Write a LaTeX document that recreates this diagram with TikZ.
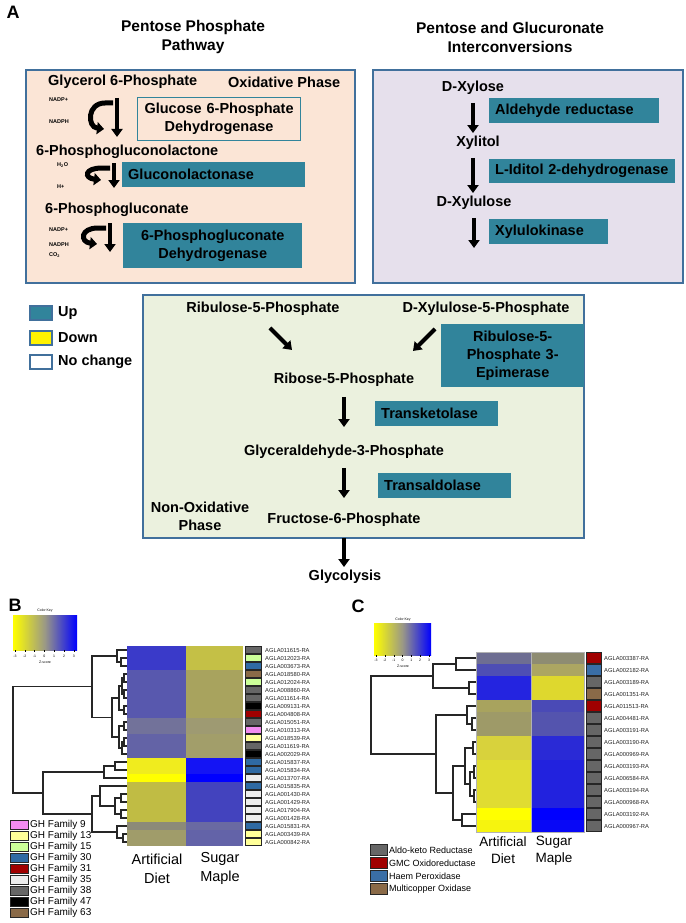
\documentclass[tikz,border=0pt]{standalone}
\usepackage{fontspec}
\setmainfont{Liberation Sans}
\usetikzlibrary{positioning,arrows.meta,calc}
\definecolor{peach}{HTML}{FBE5D6}
\definecolor{lav}{HTML}{E6E0EC}
\definecolor{olv}{HTML}{EBF1DE}
\definecolor{frm}{HTML}{41709C}
\definecolor{tealup}{HTML}{31849B}
\definecolor{keygray}{HTML}{9A9886}
% heat map cells
\definecolor{bgA}{HTML}{3A3AC9}\definecolor{bgAs}{HTML}{C4C046}
\definecolor{bgB}{HTML}{5858AE}\definecolor{bgBs}{HTML}{A8A35E}
\definecolor{bgC}{HTML}{72729A}\definecolor{bgCs}{HTML}{9E9A72}
\definecolor{bgD}{HTML}{6363A6}\definecolor{bgDs}{HTML}{A29E6A}
\definecolor{bgE}{HTML}{F0EC1E}\definecolor{bgEs}{HTML}{1414F4}
\definecolor{bgF}{HTML}{C0BC44}\definecolor{bgFs}{HTML}{4343BE}
\definecolor{bgG}{HTML}{8C8A78}\definecolor{bgGs}{HTML}{6A6AA2}
\definecolor{bgH}{HTML}{A09C6A}\definecolor{bgHs}{HTML}{6363A8}
\definecolor{hiY}{HTML}{FFFF00}\definecolor{hiB}{HTML}{0000FF}
\definecolor{cgA}{HTML}{6E6E92}\definecolor{cgAs}{HTML}{8E8C72}
\definecolor{cgB}{HTML}{4E4EB4}\definecolor{cgBs}{HTML}{ACA662}
\definecolor{cgC}{HTML}{2424E0}\definecolor{cgCs}{HTML}{DED82E}
\definecolor{cgD}{HTML}{A8A35E}\definecolor{cgDs}{HTML}{4A4AB6}
\definecolor{cgE}{HTML}{9E9A68}\definecolor{cgEs}{HTML}{5454AE}
\definecolor{cgF}{HTML}{D8D23C}\definecolor{cgFs}{HTML}{2A2AD6}
\definecolor{cgG}{HTML}{E0DC32}\definecolor{cgGs}{HTML}{2222DE}
\definecolor{cgH}{HTML}{F6F40E}\definecolor{cgHs}{HTML}{0808F6}
% families
\definecolor{gh9}{HTML}{F28CF0}
\definecolor{gh13}{HTML}{FFFF99}
\definecolor{gh15}{HTML}{CCFF99}
\definecolor{gh30}{HTML}{2F6AA3}
\definecolor{gh31}{HTML}{A00000}
\definecolor{gh35}{HTML}{EDEDED}
\definecolor{gh38}{HTML}{666666}
\definecolor{gh47}{HTML}{000000}
\definecolor{gh63}{HTML}{8A6A48}
\definecolor{akr}{HTML}{666666}
\definecolor{gmc}{HTML}{A00000}
\definecolor{haem}{HTML}{3A6EA6}
\definecolor{mco}{HTML}{8A6A48}
\tikzset{
  >={Triangle[length=8pt,width=11pt]},
  frame/.style={draw=frm, line width=1.8pt},
  lbl/.style={font=\fontsize{14.5}{18}\selectfont\bfseries, inner sep=0pt, align=center},
  ttl/.style={lbl, font=\fontsize{15.5}{19}\selectfont\bfseries},
  panel/.style={font=\fontsize{18}{18}\selectfont\bfseries, inner sep=0pt},
  tiny/.style={font=\fontsize{5.5}{6}\selectfont\bfseries, inner sep=0pt, anchor=west},
  enz/.style={lbl, fill=tealup, anchor=north west, inner xsep=6pt, inner ysep=0pt, align=left},
  nochg/.style={enz, fill=none, draw=tealup, line width=1.2pt, align=center},
  legsq/.style={draw=frm, line width=1.5pt, minimum width=22pt, minimum height=14pt, inner sep=0pt},
  flux/.style={->, line width=4pt},
  keyt/.style={font=\fontsize{3.5}{4}\selectfont, inner sep=0pt},
  rowid/.style={font=\fontsize{5.8}{6}\selectfont, text=black!85, inner sep=0pt, anchor=west},
  coltxt/.style={font=\fontsize{14.5}{19}\selectfont, inner sep=0pt, align=center},
  legtxt/.style={font=\fontsize{10}{10}\selectfont, inner sep=0pt, anchor=west},
  side/.style={draw=black!85, line width=0.8pt},
  dend/.style={draw=black!85, line width=1.1pt},
  redox/.pic={
    \draw[line width=4pt, ->] (0,0) -- (0,#1);
    \draw[line width=5pt, -{Triangle[length=7pt,width=12pt]}] (-4,5) -- (-12,5)
      .. controls (-30,5) and (-30,{#1-10}) .. (-13,{#1-8});
  },
}
\newcommand{\dlink}[5]{\draw[dend] (#2,#3) -| (#1,#5) -- (#4,#5);}

\begin{document}
\begin{tikzpicture}[x=1pt,y=-1pt]
  \fill[white] (0,0) rectangle (685,923);
  \useasboundingbox (0,0) rectangle (685,923);

  % ---------- panel A ----------
  \node[panel] (pA) at (13,12) {A};
  \node[ttl] (tppp) at (193,37) {Pentose Phosphate\\Pathway};
  \node[ttl] (tpgi) at (510,37) {Pentose and Glucuronate\\Interconversions};
  \draw[frame, fill=peach] (26,70) rectangle (355,283);
  \draw[frame, fill=lav] (373,70) rectangle (683,283);
  \draw[frame, fill=olv] (143,295) rectangle (584,538);

  % oxidative phase
  \node[lbl, anchor=west] (g6p) at (48,82) {Glycerol 6-Phosphate};
  \node[lbl, anchor=west] (oxph) at (228,82) {Oxidative Phase};
  \node[tiny] (nadp1) at (49,100) {NADP+};
  \node[tiny] (nadph1) at (49,122) {NADPH};
  \node[nochg, text width=151pt, minimum height=43pt] (g6pd) at (137,97) {Glucose 6-Phosphate\\Dehydrogenase};
  \pic at (117,98) {redox=39};
  \node[lbl, anchor=west] (pgl) at (36,152) {6-Phosphogluconolactone};
  \node[tiny] (h2o) at (57,165) {H\textsubscript{2}O};
  \node[tiny] (hplus) at (57,187) {H+};
  \node[enz, text width=171pt, minimum height=25pt] (glac) at (122,162) {Gluconolactonase};
  \pic at (114,163) {redox=25};
  \node[lbl, anchor=west] (pgn) at (45,210) {6-Phosphogluconate};
  \node[tiny] (nadp2) at (49,230) {NADP+};
  \node[tiny] (nadph2) at (49,245) {NADPH};
  \node[tiny] (co2) at (49,255) {CO\textsubscript{2}};
  \node[enz, align=center, text width=167pt, minimum height=45pt] (pgd) at (123,223) {6-Phosphogluconate\\Dehydrogenase};
  \pic at (110,223) {redox=29};

  % glucuronate interconversions
  \node[lbl] (dxyl) at (473,88) {D-Xylose};
  \node[enz, text width=158pt, minimum height=25pt] (ald) at (489,98) {Aldehyde reductase};
  \node[lbl] (xylt) at (478,143) {Xylitol};
  \node[enz, text width=174pt, minimum height=24pt] (lid) at (489,159) {L-Iditol 2-dehydrogenase};
  \node[lbl] (dxlu) at (474,203) {D-Xylulose};
  \node[enz, text width=107pt, minimum height=25pt] (xk) at (489,219) {Xylulokinase};
  \coordinate (xkend) at (474,248);
  \draw[flux, shorten <=8pt, shorten >=3pt] (dxyl.south) -- (dxyl.south |- xylt.north);
  \draw[flux, shorten <=8pt, shorten >=3pt] (dxyl.south |- xylt.south) -- (dxyl.south |- dxlu.north);
  \draw[flux, shorten <=8pt] (dxlu.south) -- (dxlu.south |- xkend);

  % legend
  \foreach \nm/\fc/\yy in {Up/tealup/313, Down/yellow/338, No change/white/362}{
    \node[legsq, fill=\fc] (sq\yy) at (41,\yy) {};
    \node[lbl, anchor=west] (lg\yy) at (58,\yy) {\nm};
  }

  % non-oxidative phase
  \node[lbl] (ru5p) at (263,309) {Ribulose-5-Phosphate};
  \node[lbl] (xu5p) at (486,309) {D-Xylulose-5-Phosphate};
  \node[enz, align=center, text width=131pt, minimum height=63pt] (rpe) at (441,324) {Ribulose-5-\\Phosphate 3-\\Epimerase};
  \node[lbl] (r5p) at (344,380) {Ribose-5-Phosphate};
  \node[enz, text width=111pt, minimum height=25pt] (tkt) at (375,401) {Transketolase};
  \node[lbl] (ga3p) at (344,452) {Glyceraldehyde-3-Phosphate};
  \node[enz, text width=121pt, minimum height=25pt] (tal) at (378,473) {Transaldolase};
  \node[lbl] (nonox) at (200,516) {Non-Oxidative\\Phase};
  \node[lbl] (f6p) at (344,520) {Fructose-6-Phosphate};
  \node[lbl] (glyc) at (345,577) {Glycolysis};
  \draw[flux] ([shift={(7,12)}]ru5p.south) -- ++(22,22);
  \draw[flux] ([shift={(-51,13)}]xu5p.south) -- ++(-22,22);
  \draw[flux, shorten <=10pt, shorten >=18pt] (r5p) -- (ga3p);
  \draw[flux, shorten <=9pt, shorten >=15pt] (ga3p) -- (f6p);
  \draw[flux, shorten <=11pt, shorten >=3pt] (f6p.south) -- (f6p.south |- glyc.north);

  % ---------- panel B ----------
  \node[panel] (pB) at (15,605) {B};
  \shade[left color=yellow, right color=blue, middle color=keygray] (13,615) rectangle (77,650);
  \node[keyt] (kB) at (45,611) {Color Key};
  \foreach \zz [count=\k from 0] in {-3,-2,-1,0,1,2,3}{
    \draw[line width=0.3pt] ({15+\k*9.8},650) -- ++(0,2);
    \node[keyt] (kb\k) at ({15+\k*9.8},656) {\zz};
  }
  \node[keyt] (zB) at (45,662) {Z-score};

  \foreach \id/\gh/\ad/\sm [count=\i] in {
    011615/gh38/bgA/bgAs, 012023/gh15/bgA/bgAs, 003673/gh30/bgA/bgAs,
    018580/gh63/bgB/bgBs, 012024/gh15/bgB/bgBs, 008860/gh38/bgB/bgBs,
    011614/gh38/bgB/bgBs, 009131/gh47/bgB/bgBs, 004808/gh31/bgB/bgBs,
    015051/gh38/bgC/bgCs, 010313/gh9/bgC/bgCs, 018539/gh13/bgD/bgDs,
    011619/gh38/bgD/bgDs, 002029/gh47/bgD/bgDs, 015837/gh30/bgE/bgEs,
    015834/gh30/bgE/bgEs, 013707/gh35/hiY/hiB, 015835/gh30/bgF/bgFs,
    001430/gh35/bgF/bgFs, 001429/gh35/bgF/bgFs, 017904/gh35/bgF/bgFs,
    001428/gh35/bgF/bgFs, 015831/gh30/bgG/bgGs, 003439/gh13/bgH/bgHs,
    000842/gh13/bgH/bgHs}{
    \fill[\ad] (127,{638+8*\i}) rectangle (186,{646+8*\i});
    \fill[\sm] (186,{638+8*\i}) rectangle (243,{646+8*\i});
    \draw[side, fill=\gh] (245.5,{638.5+8*\i}) rectangle (261.5,{645.5+8*\i});
    \node[rowid] (b\i) at (265,{642+8*\i}) {AGLA\id-RA};
  }
  % dendrogram B
  \foreach \px/\ax/\ay/\bx/\by in {
    121/127/658/127/666, 117/127/650/121/662,
    124/127/674/127/682, 124/127/690/127/698, 122/124/678/124/694,
    124/127/706/127/714, 119/122/686/124/710,
    124/127/722/127/730, 124/127/738/127/746, 122/124/742/127/754,
    119/124/726/122/748, 112/119/698/119/737, 92/117/656/112/717.5,
    115/127/762/127/770, 104/115/766/127/778,
    121/127/794/127/802, 121/127/810/127/818, 115/121/798/121/814,
    100/127/786/115/806, 123/127/834/127/842, 117/127/826/123/838,
    92/100/796/117/832, 43/104/772/92/814, 13/92/686.75/43/793}{
    \dlink{\px}{\ax}{\ay}{\bx}{\by}
  }
  \node[coltxt] (adB) at (157,868.5) {Artificial\\Diet};
  \node[coltxt] (smB) at (220,868.5) {Sugar\\Maple};
  \foreach \fam/\nm [count=\k] in {gh9/9, gh13/13, gh15/15, gh30/30, gh31/31,
                                   gh35/35, gh38/38, gh47/47, gh63/63}{
    \draw[side, fill=\fam] (10,{809.5+11*\k}) rectangle (28,{818.5+11*\k});
    \node[legtxt] (ghl\k) at (30,{814+11*\k}) {GH Family \nm};
  }

  % ---------- panel C ----------
  \node[panel] (pC) at (358,606) {C};
  \shade[left color=yellow, right color=blue, middle color=keygray] (374,623) rectangle (431,655);
  \node[keyt] (kC) at (403,620) {Color Key};
  \foreach \zz [count=\k from 0] in {-3,-2,-1,0,1,2,3}{
    \draw[line width=0.3pt] ({376+\k*8.83},655) -- ++(0,2);
    \node[keyt] (kc\k) at ({376+\k*8.83},660) {\zz};
  }
  \node[keyt] (zC) at (403,666) {Z-score};

  \foreach \id/\fam/\ad/\sm [count=\i] in {
    003387/gmc/cgA/cgAs, 002182/haem/cgB/cgBs, 003189/akr/cgC/cgCs,
    001351/mco/cgC/cgCs, 011513/gmc/cgD/cgDs, 004481/akr/cgE/cgEs,
    003191/akr/cgE/cgEs, 003190/akr/cgF/cgFs, 000969/akr/cgF/cgFs,
    003193/akr/cgG/cgGs, 006584/akr/cgG/cgGs, 003194/akr/cgG/cgGs,
    000968/akr/cgG/cgGs, 003192/akr/hiY/hiB, 000967/akr/cgH/cgHs}{
    \fill[\ad] (476,{640+12*\i}) rectangle (531,{652+12*\i});
    \fill[\sm] (531,{640+12*\i}) rectangle (584,{652+12*\i});
    \draw[side, line width=1pt, fill=\fam] (586.5,{640.5+12*\i}) rectangle (601.5,{651.5+12*\i});
    \node[rowid] (c\i) at (604,{646+12*\i}) {AGLA\id-RA};
  }
  \draw[gray!60, line width=0.5pt] (476,652) rectangle (584,832) (531,652) -- (531,832);
  % dendrogram C
  \foreach \px/\ax/\ay/\bx/\by in {
    456/476/658/476/670, 469/476/682/476/694, 433/456/664/469/688,
    472/476/718/476/730, 467/476/706/472/724,
    473/476/742/476/754, 474/476/766/476/778, 474/476/790/476/802,
    470/474/772/474/796, 465/473/748/470/784, 462/476/814/476/826,
    453/465/766/462/820, 436/467/715/453/793, 371/433/676/436/754}{
    \dlink{\px}{\ax}{\ay}{\bx}{\by}
  }
  \node[coltxt, font=\fontsize{13.5}{17}\selectfont] (adC) at (503,850.5) {Artificial\\Diet};
  \node[coltxt, font=\fontsize{13.5}{17}\selectfont] (smC) at (554,850.5) {Sugar\\Maple};
  \foreach \fam/\nm [count=\k] in {akr/Aldo-keto Reductase, gmc/GMC Oxidoreductase,
                                   haem/Haem Peroxidase, mco/Multicopper Oxidase}{
    \draw[side, fill=\fam] (370,{831.5+13*\k}) rectangle (387,{842.5+13*\k});
    \node[legtxt, font=\fontsize{9}{9}\selectfont] (cl\k) at (389,{837+13*\k}) {\nm};
  }
\end{tikzpicture}
\end{document}
